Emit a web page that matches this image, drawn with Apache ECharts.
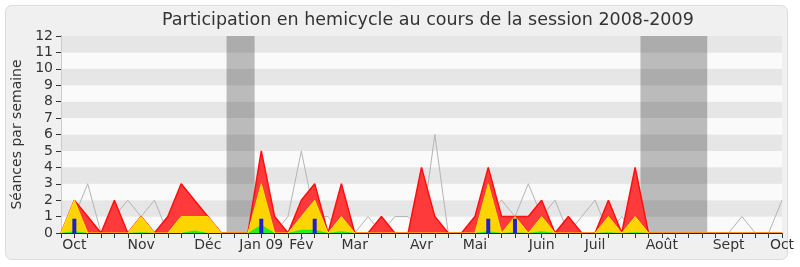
<!DOCTYPE html>
<html><head><meta charset="utf-8">
<script src="https://cdn.jsdelivr.net/npm/echarts@6/dist/echarts.min.js"></script>
<style>html,body{margin:0;padding:0;background:#fff}#c{width:800px;height:267px}</style>
</head><body><div id="c"></div>
<script>
// week index 0..54 (weekly ticks)
const weekCount = 55;
const monthTickPos = [1, 6, 11, 15, 18, 22, 27, 31, 36, 40, 45, 50, 54];
const monthTickLabels = ['Oct', 'Nov', 'Déc', 'Jan 09', 'Fév', 'Mar', 'Avr', 'Mai', 'Juin', 'Juil', 'Août', 'Sept', 'Oct'];
const yTicks = [0,1,2,3,4,5,6,7,8,9,10,11,12];
// vacation periods (in week units)
const vacStart = [12.4, 43.4];
const vacEnd = [14.5, 48.4];

const grayValues = [0,1,3,0,1,2,1,2,0,0, 0,0,0,0,0,0,0,1,5,1, 1,0,0,1,0,1,1,0,6,0, 0,0,1,2,1,3,1,2,0,1, 2,0,1,0,0,0,0,0,0,0, 0,1,0,0,2];
const redValues = [0,2,1,0,2,0,1,0,1,3, 2,1,0,0,0,5,1,0,2,3, 0,3,0,0,1,0,0,4,1,0, 0,1,4,1,1,1,2,0,1,0, 0,2,0,4,0,0,0,0,0,0, 0,0,0,0,0];
const yellowValues = [0,2,0,0,0,0,1,0,0,1, 1,1,0,0,0,3,0,0,1,2, 0,1,0,0,0,0,0,0,0,0, 0,0,3,0,1,0,1,0,0,0, 0,1,0,1,0,0,0,0,0,0, 0,0,0,0,0];
const greenValues = [0,0.1,0,0,0,0,0.05,0,0,0, 0.15,0,0,0,0,0.5,0,0,0.2,0.2, 0,0.1,0,0,0,0,0,0,0,0, 0,0,0.1,0,0.05,0,0.1,0,0,0, 0,0.05,0,0.05,0,0,0,0,0,0, 0,0,0,0,0];
const blueWeeks = [1, 15, 19, 32, 34];
const blueValues = [0.87, 0.87, 0.87, 0.87, 0.87];

const pairs = arr => arr.map((v, i) => [i, v]);
const labelMap = {};
monthTickPos.forEach((p, k) => { labelMap[p] = monthTickLabels[k]; });
const FONT = 'DejaVu Sans';

const chart = echarts.init(document.getElementById('c'), null, {renderer: 'canvas'});
chart.setOption({
  animation: false,
  backgroundColor: '#ffffff',
  textStyle: {fontFamily: FONT},
  graphic: [{
    type: 'rect', z: -100, silent: true,
    shape: {x: 5.5, y: 5.5, width: 782, height: 254, r: 6},
    style: {fill: '#f0f0f0', stroke: '#dcdcdc', lineWidth: 1}
  }],
  title: {
    text: 'Participation en hemicycle au cours de la session 2008-2009',
    left: 162, top: 11, padding: 0,
    textStyle: {fontFamily: FONT, fontSize: 17.5, fontWeight: 'normal', color: '#333'}
  },
  grid: {left: 61, right: 18, top: 36, bottom: 34, containLabel: false},
  xAxis: [{
    type: 'value', min: 0, max: weekCount - 1, interval: 1, z: 10,
    axisLine: {show: true, onZero: false, lineStyle: {color: '#222', width: 1}},
    axisTick: {show: true, length: 5, lineStyle: {color: '#333'}},
    axisLabel: {show: true, margin: 5, fontSize: 14, color: '#333', fontFamily: FONT,
      formatter: v => labelMap[v] || ''},
    splitLine: {show: false}
  }, {
    type: 'value', position: 'top', min: 0, max: weekCount - 1, interval: 1, z: 10,
    axisLine: {show: false},
    axisTick: {show: true, inside: true, length: 1, lineStyle: {color: '#555'}},
    axisLabel: {show: false}, splitLine: {show: false}
  }],
  yAxis: [{
    type: 'value', min: 0, max: 12, interval: 1,
    axisLine: {show: true, lineStyle: {color: '#333'}},
    axisTick: {show: true, length: 5, lineStyle: {color: '#333'}},
    axisLabel: {margin: 8, fontSize: 14, color: '#333', fontFamily: FONT,
      formatter: v => (yTicks.indexOf(v) >= 0 ? String(v) : '')},
    splitLine: {show: false},
    splitArea: {show: true, areaStyle: {color: ['#fafafa', '#e6e6e6']}},
    name: 'Séances par semaine', nameLocation: 'middle', nameGap: 36,
    nameTextStyle: {fontSize: 14, color: '#333', fontFamily: FONT}
  }, {
    type: 'value', position: 'right', min: 0, max: 12, interval: 1,
    axisLine: {show: true, lineStyle: {color: '#cccccc'}},
    axisTick: {show: false}, axisLabel: {show: false}, splitLine: {show: false}
  }],
  series: [{
    type: 'line', name: 'gray', data: pairs(grayValues), symbol: 'none',
    lineStyle: {color: '#b4b4b4', width: 1}, z: 2,
    markArea: {
      silent: true,
      itemStyle: {color: 'rgba(0,0,0,0.25)'},
      data: vacStart.map((s, k) => [{xAxis: s}, {xAxis: vacEnd[k]}])
    }
  }, {
    type: 'line', name: 'red', data: pairs(redValues), symbol: 'none', z: 3,
    lineStyle: {color: '#ff1010', width: 1.5},
    areaStyle: {color: '#ff3a3a', opacity: 1}
  }, {
    type: 'line', name: 'yellow', data: pairs(yellowValues), symbol: 'none', z: 4,
    lineStyle: {color: '#ffe600', width: 1},
    areaStyle: {color: '#ffd400', opacity: 1}
  }, {
    type: 'line', name: 'green', data: pairs(greenValues), symbol: 'none', z: 5,
    lineStyle: {width: 0},
    areaStyle: {color: '#22ee22', opacity: 1}
  }, {
    type: 'bar', name: 'blue', data: blueWeeks.map((w, k) => [w, blueValues[k]]),
    barWidth: 4, z: 6, itemStyle: {color: '#2020d0'}
  }]
});
</script></body></html>
